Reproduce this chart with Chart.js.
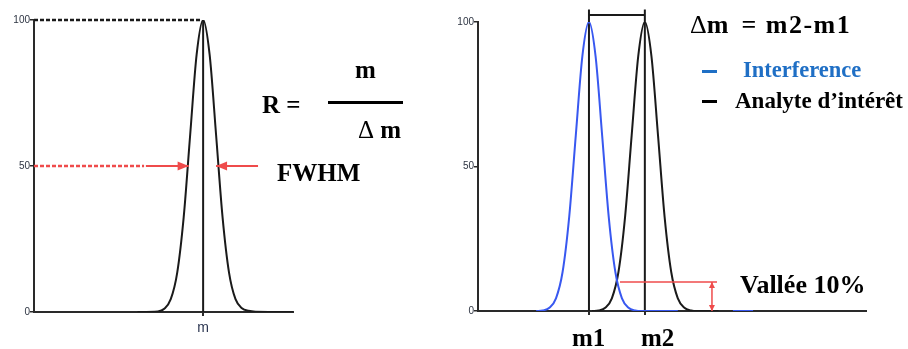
<!DOCTYPE html>
<html>
<head>
<meta charset="utf-8">
<script src="https://cdn.jsdelivr.net/npm/chart.js@4.4.1/dist/chart.umd.min.js"></script>
<style>
  body { margin: 0; background: #fff; }
  #wrap { position: relative; width: 908px; height: 349px; overflow: hidden; }
  canvas { position: absolute; top: 0; }
  .t { position: absolute; font-family: "Liberation Serif", "Times New Roman", serif; font-weight: bold;
       color: #000; line-height: 1; white-space: nowrap; }
  .d { font-weight: normal; }
  .bar { position: absolute; background: #000; }
</style>
</head>
<body>
<div id="wrap">
  <canvas id="gauche" width="440" height="349" style="left:0"></canvas>
  <canvas id="droite" width="468" height="349" style="left:440px"></canvas>

  <!-- annotations du graphique de gauche -->
  <div class="t" style="left:262px;top:92px;font-size:25px">R =</div>
  <div class="t" style="left:355px;top:57px;font-size:25px">m</div>
  <div class="bar" style="left:328px;top:101px;width:75px;height:3px"></div>
  <div class="t" style="left:358px;top:117px;font-size:25px"><span class="d">Δ</span> m</div>
  <div class="t" style="left:277px;top:160px;font-size:25px">FWHM</div>

  <!-- annotations du graphique de droite -->
  <div class="t" style="left:690px;top:12px;font-size:26px"><span class="d">Δ</span>m<span style="margin-left:13px;letter-spacing:1.5px">= m2-m1</span></div>
  <div class="bar" style="left:702px;top:70px;width:15px;height:3px;background:#1f6fc5"></div>
  <div class="t" style="left:743px;top:59px;font-size:22.5px;color:#1f6fc5">Interference</div>
  <div class="bar" style="left:702px;top:100px;width:15px;height:3px"></div>
  <div class="t" style="left:735px;top:89px;font-size:23px">Analyte d’intérêt</div>
  <div class="t" style="left:740px;top:272px;font-size:26px">Vallée 10%</div>
  <div class="t" style="left:572px;top:325px;font-size:25px">m1</div>
  <div class="t" style="left:641px;top:325px;font-size:25px">m2</div>
</div>

<script>
// Graduations communes
const yTicks = [0, 50, 100];

// Pic de gauche (résolution / FWHM)
const leftX = [40, 47.8, 50.3, 52.8, 55.3, 57.8, 60.3, 62.8, 65.3, 67.8, 70.3, 72.8, 75.3, 77.8, 80.3, 82.8, 85.5, 100];
const leftY = [0, 0.2, 1.1, 4.4, 13.5, 32.5, 60.7, 88.2, 100, 88.2, 60.7, 32.5, 13.5, 4.4, 1.3, 0.4, 0.1, 0];
const mLeft = 65.3;
const leftTickLabels = ['m'];
const topLevel = 100;
const halfLevel = 50;
const topDotX = [0, 64.3];
const halfDotX = [0, 42.5];
const arrowInX = [43.2, 59.7];   // flèche gauche -> pic
const arrowOutX = [86.5, 70.3];  // flèche droite -> pic

// Deux pics de droite (interférence / analyte)
const blueX = [15.0, 16.7, 18.4, 20.1, 21.8, 23.5, 25.2, 26.9, 28.6, 30.3, 32.0, 33.7, 35.4, 37.1, 38.8, 40.5, 42.2, 51.5, 58, 65.7, 70.9];
const blueY = [0, 0.2, 1.1, 4.4, 13.5, 32.5, 60.7, 88.2, 100, 88.2, 60.7, 32.5, 13.5, 4.4, 1.1, 0.2, 0, 0, null, 0, 0];
const blackX = [29.4, 31.1, 32.8, 34.5, 36.2, 37.9, 39.6, 41.3, 43.0, 44.7, 46.4, 48.1, 49.8, 51.5, 53.2, 54.9, 56.6, 62];
const blackY = [0, 0.2, 1.1, 4.4, 13.5, 32.5, 60.7, 88.2, 100, 88.2, 60.7, 32.5, 13.5, 4.4, 1.1, 0.2, 0, 0];
const m1 = 28.6;
const m2 = 43.0;
const bracketLevel = 102.4;
const bracketTop = 104.3;
const valleyLevel = 10;
const valleyX = [36.6, 61.6];
const valleyArrowX = 60.3;

const ROUGE = '#ef4b4b';
const BLEU = '#3858f0';
const NOIR = '#1a1a1a';

function pts(xs, ys) {
    return xs.map((x, i) => ({ x: x, y: ys[i] }));
}

function courbe(data, color) {
    return { data: data, borderColor: color, borderWidth: 2, pointRadius: 0,
             cubicInterpolationMode: 'monotone', spanGaps: false };
}

function trait(data, color, extra) {
    return Object.assign({ data: data, borderColor: color, borderWidth: 2, pointRadius: 0,
                           tension: 0, clip: false }, extra || {});
}

// petit plugin pour dessiner les pointes de flèches
const arrowHeads = {
    id: 'arrowHeads',
    afterDatasetsDraw(chart) {
        const ctx = chart.ctx;
        chart.data.datasets.forEach((ds, i) => {
            if (!ds.arrow) return;
            const p = chart.getDatasetMeta(i).data;
            const ends = [[p[p.length - 1], p[p.length - 2]]];
            if (ds.arrow === 'both') ends.push([p[0], p[1]]);
            const len = ds.arrowLen || 11, half = ds.arrowHalf || 4.5;
            ends.forEach(([tip, prev]) => {
                const a = Math.atan2(tip.y - prev.y, tip.x - prev.x);
                const bx = tip.x - len * Math.cos(a), by = tip.y - len * Math.sin(a);
                ctx.save();
                ctx.fillStyle = ds.borderColor;
                ctx.beginPath();
                ctx.moveTo(tip.x, tip.y);
                ctx.lineTo(bx + half * Math.sin(a), by - half * Math.cos(a));
                ctx.lineTo(bx - half * Math.sin(a), by + half * Math.cos(a));
                ctx.closePath();
                ctx.fill();
                ctx.restore();
            });
        });
    }
};

function options(cfg) {
    return {
        responsive: false,
        animation: false,
        layout: { padding: cfg.padding },
        plugins: { legend: { display: false }, tooltip: { enabled: false } },
        scales: {
            x: {
                type: 'linear', min: 0, max: 100,
                afterFit: (s) => { s.height = cfg.xHeight; },
                afterBuildTicks: (s) => { s.ticks = cfg.xTicks.map(v => ({ value: v })); },
                border: { display: true, color: '#2a2a2a', width: 2 },
                grid: { drawOnChartArea: false, drawTicks: true, tickLength: 4, color: '#2a2a2a', lineWidth: 2 },
                ticks: {
                    autoSkip: false, maxRotation: 0, padding: 4,
                    color: '#2b3550', font: { family: 'Liberation Sans', size: 14 },
                    callback: (v) => { const k = cfg.xTicks.indexOf(v); return k >= 0 && cfg.xLabels[k] ? cfg.xLabels[k] : ''; }
                }
            },
            y: {
                min: 0, max: 100,
                afterFit: (s) => { s.width = cfg.yWidth; },
                afterBuildTicks: (s) => { s.ticks = yTicks.map(v => ({ value: v })); },
                border: { display: true, color: '#2a2a2a', width: 2 },
                grid: { drawOnChartArea: false, drawTicks: true, tickLength: 4, color: '#2a2a2a', lineWidth: 1.5 },
                ticks: { padding: 0, color: '#2d3442', font: { family: 'Liberation Sans', size: 10 } }
            }
        }
    };
}

// graphique de gauche
new Chart(document.getElementById('gauche'), {
    type: 'line',
    data: {
        datasets: [
            trait(pts(arrowInX, [halfLevel, halfLevel]), ROUGE, { arrow: 'end' }),
            trait(pts(arrowOutX, [halfLevel, halfLevel]), ROUGE, { arrow: 'end' }),
            trait(pts(halfDotX, [halfLevel, halfLevel]), ROUGE, { borderDash: [4, 2], borderWidth: 2.5 }),
            trait(pts(topDotX, [topLevel, topLevel]), NOIR, { borderDash: [4, 2], borderWidth: 2.5 }),
            trait(pts([mLeft, mLeft], [0, topLevel]), NOIR),
            courbe(pts(leftX, leftY), NOIR)
        ]
    },
    options: options({
        padding: { top: 20, right: 147, left: 0, bottom: 0 },
        xHeight: 37, yWidth: 34, xTicks: [mLeft], xLabels: leftTickLabels
    }),
    plugins: [arrowHeads]
});

// graphique de droite (étiquettes m1 / m2 placées en texte au-dessous)
new Chart(document.getElementById('droite'), {
    type: 'line',
    data: {
        datasets: [
            trait(pts([valleyArrowX, valleyArrowX], [0, valleyLevel]), ROUGE, { arrow: 'both', arrowLen: 6, arrowHalf: 3, borderWidth: 1.5 }),
            trait(pts(valleyX, [valleyLevel, valleyLevel]), ROUGE, { borderWidth: 1.5 }),
            courbe(pts(blueX, blueY), BLEU),
            courbe(pts(blackX, blackY), NOIR),
            trait(pts([m1, m1], [0, bracketTop]), NOIR),
            trait(pts([m2, m2], [0, bracketTop]), NOIR),
            trait(pts([m1, m2], [bracketLevel, bracketLevel]), NOIR)
        ]
    },
    options: options({
        padding: { top: 22, right: 42, left: 0, bottom: 0 },
        xHeight: 38, yWidth: 38, xTicks: [m1, m2], xLabels: []
    }),
    plugins: [arrowHeads]
});
</script>
</body>
</html>
